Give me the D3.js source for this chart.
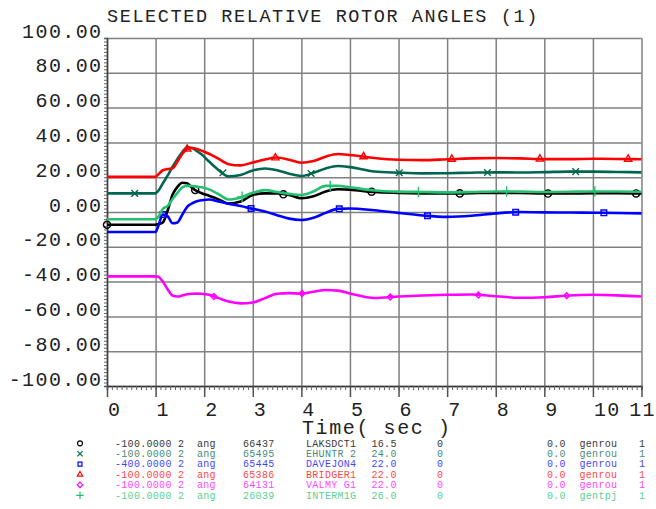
<!DOCTYPE html>
<html>
<head>
<meta charset="utf-8">
<script src="https://cdn.jsdelivr.net/npm/d3@7"></script>
<style>
body{margin:0;background:#fff;}
text{font-family:"Liberation Mono","Courier New",monospace;}
</style>
</head>
<body>
<svg id="chart" width="656" height="509"></svg>
<script>
// time axis samples (sec), shared by all channels
var times=[0,1.0,1.05,1.15,1.25,1.35,1.45,1.55,1.65,1.75,1.85,1.95,2.1,2.3,2.5,2.75,3.0,3.25,3.5,3.75,4.0,4.25,4.5,4.75,5.0,5.5,6.0,6.5,7.0,7.5,8.0,8.5,9.0,9.5,10.0,10.5,11.0];

var laksValues=[-7.3,-7.3,-7,-6,1,10,14.5,16.8,16.5,14,12,10.8,9.3,7.2,4.8,6,9.8,10.7,10.6,9.8,7.9,9,11.8,13.1,12.8,11.5,11,10.7,10.6,10.8,11,10.9,10.6,10.6,10.8,10.8,10.6];
var ehuntrValues=[10.7,10.7,12,16.5,21,26,30.5,34.5,37.2,36.8,35,33,29,24,20.5,21.3,23.9,25,24,22,20.7,22.5,25,26.4,25.8,23.3,22.6,22.2,22.3,22.6,22.8,22.7,22.9,23.2,23.2,23,22.8];
var davejonValues=[-11.5,-11.5,-8.5,-1.5,-2.5,-6.5,-6,-1.5,3,5,6.2,6.8,7.2,6,4.8,3.4,1.8,0.3,-1.8,-3.8,-4.6,-3.3,-0.5,1.8,2,1,-0.5,-2,-2.8,-2.2,-0.8,0,-0.2,-0.3,-0.4,-0.6,-0.8];
var bridgerValues=[20.2,20.2,21.5,24,24.7,25.2,29,33.5,36.2,36.8,36.2,35.2,33.5,30.5,27.5,26.8,28.5,30.2,31.3,30,28.3,29.3,31.8,33.3,32.8,31,30,29.8,30.3,30.8,31,30.8,30.4,30.4,30.6,30.5,30.3];
var valmyValues=[-37,-37,-37.2,-40,-44.5,-48,-48.6,-48,-47.3,-47,-46.9,-47,-47.6,-49.5,-51.5,-52.5,-52,-49.5,-47,-46.6,-46.9,-45.8,-44.8,-45.2,-46.8,-49.4,-48.6,-48,-47.6,-47.4,-48.4,-49.3,-49,-48,-47.6,-47.9,-48.6];
var intermValues=[-4.2,-4.2,-3,1.8,3.5,7.5,11,14.2,15,14.9,14.6,14.2,13,10.2,7.2,8.4,11,12.6,11.5,10.4,9.8,11.8,15,15,14.2,12.4,11.7,11.5,11.3,11.5,11.8,11.7,11.5,11.6,11.8,11.8,11.6];

var seriesValues=[laksValues,ehuntrValues,davejonValues,bridgerValues,valmyValues,intermValues];
var seriesColors=["#000000","#00664f","#0000ff","#ff0000","#ff00ff","#22c070"];
var markerTypes=["circle","x","square","triangle","diamond","plus"];
var markerOffsets=[0,0.57,1.15,1.65,2.2,2.78];
var markerPeriod=1.815;

var xTicks=[0,1,2,3,4,5,6,7,8,9,10,11];
var yTicks=[-100,-80,-60,-40,-20,0,20,40,60,80,100];
var yTickLabels=["-100.00","-80.00","-60.00","-40.00","-20.00","0.00","20.00","40.00","60.00","80.00","100.00"];

var titleText="SELECTED RELATIVE ROTOR ANGLES (1)";
var xTitle="Time( sec )";

// legend columns
var legendScale=["-100.0000 2","-100.0000 2","-400.0000 2","-100.0000 2","-100.0000 2","-100.0000 2"];
var legendType=["ang","ang","ang","ang","ang","ang"];
var legendBus=["66437","65495","65445","65386","64131","26039"];
var legendName=["LAKSDCT1","EHUNTR 2","DAVEJON4","BRIDGER1","VALMY G1","INTERM1G"];
var legendKv=["16.5","24.0","22.0","22.0","22.0","26.0"];
var legendZero=["0","0","0","0","0","0"];
var legendOff=["0.0","0.0","0.0","0.0","0.0","0.0"];
var legendModel=["genrou","genrou","genrou","genrou","genrou","gentpj"];
var legendId=["1","1","1","1","1","1"];

var svg=d3.select("#chart");
var x=d3.scaleLinear().domain([0,11]).range([107,641.5]);
var y=d3.scaleLinear().domain([-100,100]).range([386,38]);

/*
 * grid
 */
svg.append("g").attr("transform","translate(0,386)")
  .call(d3.axisBottom(x).tickValues(xTicks).tickSize(-348).tickFormat(""))
  .call(function(g){g.select(".domain").remove();g.selectAll("line").attr("stroke","#808080").attr("stroke-width",1.5);});
svg.append("g").attr("transform","translate(107,0)")
  .call(d3.axisLeft(y).tickValues(yTicks).tickSize(-534.5).tickFormat(""))
  .call(function(g){g.select(".domain").remove();g.selectAll("line").attr("stroke","#808080").attr("stroke-width",1.5);});

// minor ticks
svg.append("g").attr("transform","translate(107,0)")
  .call(d3.axisLeft(y).tickValues(d3.range(-100,100.1,2)).tickSize(3).tickFormat(""))
  .call(function(g){g.select(".domain").attr("stroke","#404040").attr("stroke-width",1.5);g.selectAll("line").attr("stroke","#606060").attr("stroke-width",1);});
svg.append("g").attr("transform","translate(0,386)")
  .call(d3.axisBottom(x).tickValues(d3.range(0,11.01,0.1)).tickSize(4).tickFormat(""))
  .call(function(g){g.select(".domain").attr("stroke","#303030").attr("stroke-width",1.5);g.selectAll("line").attr("stroke","#606060").attr("stroke-width",1);});
svg.append("g").attr("transform","translate(0,386)")
  .call(d3.axisBottom(x).tickValues(xTicks).tickSize(11).tickFormat(""))
  .call(function(g){g.select(".domain").remove();g.selectAll("line").attr("stroke","#505050").attr("stroke-width",1.5);});

// tick labels
svg.append("g").selectAll("text").data(yTicks).enter().append("text")
  .attr("x",102.5).attr("y",function(d){return y(d)-0.5;})
  .attr("text-anchor","end").attr("font-size",20).attr("letter-spacing",1.4).attr("fill","#222")
  .text(function(d,i){return yTickLabels[i];});
svg.append("g").selectAll("text").data(xTicks).enter().append("text")
  .attr("x",function(d){return d==11?656:x(d)+1;}).attr("y",416)
  .attr("text-anchor",function(d){return d==11?"end":"start";})
  .attr("font-size",20).attr("letter-spacing",1.4).attr("fill","#222")
  .text(function(d){return String(d);});

svg.append("text").attr("x",302).attr("y",434).attr("font-size",20).attr("letter-spacing",1.6).attr("fill","#222").text(xTitle);
svg.append("text").attr("x",107).attr("y",22).attr("font-size",18.5).attr("letter-spacing",1.6).attr("fill","#222").text(titleText);

/*
 * channels
 */
var line=d3.line().x(function(d){return x(d[0]);}).y(function(d){return y(d[1]);}).curve(d3.curveMonotoneX);
var symbolOf={
  circle:d3.symbolCircle,
  x:d3.symbolX||d3.symbolCross,
  square:d3.symbolSquare2||d3.symbolSquare,
  triangle:d3.symbolTriangle2||d3.symbolTriangle,
  diamond:d3.symbolDiamond2||d3.symbolDiamond,
  plus:d3.symbolPlus||d3.symbolCross
};
var plotSize={circle:40,x:30,square:40,triangle:38,diamond:22,plus:38};

seriesValues.forEach(function(vals,k){
  var pts=times.map(function(t,i){return [t,vals[i]];});
  svg.append("path").datum(pts).attr("d",line).attr("fill","none")
    .attr("stroke",seriesColors[k]).attr("stroke-width",2.6).attr("stroke-linejoin","round");
  var interp=d3.scaleLinear().domain(times).range(vals);
  var mt=d3.range(markerOffsets[k],11.01,markerPeriod);
  svg.append("g").selectAll("path").data(mt).enter().append("path")
    .attr("transform",function(t){return "translate("+x(t)+","+y(interp(t))+")";})
    .attr("d",d3.symbol(symbolOf[markerTypes[k]],plotSize[markerTypes[k]]))
    .attr("fill","none").attr("stroke",seriesColors[k]).attr("stroke-width",1.4);
});

/*
 * legend
 */
var legendCols=[
  [115,legendScale],[197,legendType],[243,legendBus],[306,legendName],[371.5,legendKv],
  [437,legendZero],[547,legendOff],[579.5,legendModel],[639,legendId]
];
legendName.forEach(function(n,i){
  var by=446.5+i*10.4;
  svg.append("path").attr("transform","translate(80,"+(by-3.2)+")")
    .attr("d",d3.symbol(symbolOf[markerTypes[i]],20))
    .attr("fill","none").attr("stroke",seriesColors[i]).attr("stroke-width",1.2);
  legendCols.forEach(function(c){
    svg.append("text").attr("x",c[0]).attr("y",by).attr("font-size",10).attr("letter-spacing",0.3)
      .attr("fill",seriesColors[i]).attr("opacity",i==0?0.8:0.75).attr("xml:space","preserve").text(c[1][i]);
  });
});
</script>
</body>
</html>
